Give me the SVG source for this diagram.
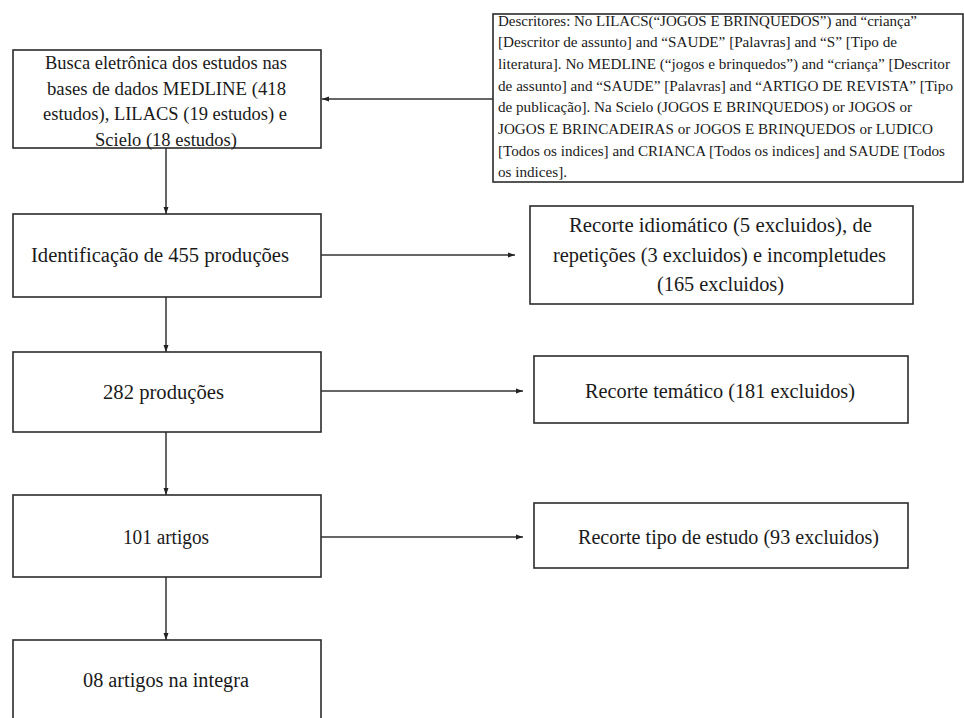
<svg xmlns="http://www.w3.org/2000/svg" width="964" height="718" viewBox="0 0 964 718">
<style>
.box{fill:#fff;stroke:#2b2b2b;stroke-width:1.6}
.t{font-family:"Liberation Serif","Times New Roman",serif;fill:#1a1a1a;font-size:20px}
.s{font-size:18.5px}
.d{font-size:15.5px}
.c{stroke:#333;stroke-width:1.5;fill:none}
</style>
<defs>
<marker id="ah" markerWidth="8" markerHeight="6" refX="7" refY="3" orient="auto" markerUnits="userSpaceOnUse">
<path d="M0,0.5 L7,3 L0,5.5 Z" fill="#222"/>
</marker>
</defs>
<rect width="964" height="718" fill="#fff"/>
<g id="connectors">
<path class="c" d="M493,99 L322,99" marker-end="url(#ah)"/>
<path class="c" d="M166,148 L166,214" marker-end="url(#ah)"/>
<path class="c" d="M321,255 L515,255" marker-end="url(#ah)"/>
<path class="c" d="M166,297 L166,352" marker-end="url(#ah)"/>
<path class="c" d="M321,391 L523,391" marker-end="url(#ah)"/>
<path class="c" d="M166,432 L166,495" marker-end="url(#ah)"/>
<path class="c" d="M321,537 L523,537" marker-end="url(#ah)"/>
<path class="c" d="M166,577 L166,640" marker-end="url(#ah)"/>
</g>
<g id="node-busca">
<rect class="box" x="13" y="50" width="308" height="98"/>
<g class="t s" text-anchor="middle">
<text x="166" y="69" textLength="242" lengthAdjust="spacingAndGlyphs">Busca eletrônica  dos estudos nas</text>
<text x="166.5" y="95" textLength="239" lengthAdjust="spacingAndGlyphs">bases de dados  MEDLINE (418</text>
<text x="165" y="120" textLength="244" lengthAdjust="spacingAndGlyphs">estudos), LILACS  (19 estudos) e</text>
<text x="166" y="146" textLength="142" lengthAdjust="spacingAndGlyphs">Scielo  (18 estudos)</text>
</g>
</g>
<g id="node-descritores">
<rect class="box" x="493" y="14" width="470" height="168"/>
<g class="t d">
<text x="498" y="25.5" textLength="419" lengthAdjust="spacingAndGlyphs">Descritores: No LILACS(“JOGOS E BRINQUEDOS”) and “criança”</text>
<text x="498" y="47.2" textLength="399" lengthAdjust="spacingAndGlyphs">[Descritor de assunto] and “SAUDE” [Palavras] and “S” [Tipo de</text>
<text x="498" y="68.9" textLength="452" lengthAdjust="spacingAndGlyphs">literatura]. No MEDLINE (“jogos e brinquedos”) and “criança” [Descritor</text>
<text x="498" y="90.6" textLength="455" lengthAdjust="spacingAndGlyphs">de assunto] and “SAUDE” [Palavras] and “ARTIGO DE REVISTA” [Tipo</text>
<text x="498" y="112.3" textLength="414" lengthAdjust="spacingAndGlyphs">de publicação]. Na Scielo (JOGOS E BRINQUEDOS) or JOGOS or</text>
<text x="498" y="134" textLength="435" lengthAdjust="spacingAndGlyphs">JOGOS E BRINCADEIRAS or JOGOS E BRINQUEDOS or LUDICO</text>
<text x="498" y="155.7" textLength="447" lengthAdjust="spacingAndGlyphs">[Todos os indices] and CRIANCA [Todos os indices] and SAUDE [Todos</text>
<text x="498" y="177.4" textLength="69" lengthAdjust="spacingAndGlyphs">os indices].</text>
</g>
</g>
<g id="node-identificacao">
<rect class="box" x="13" y="214" width="308" height="83"/>
<text class="t" x="160" y="262" text-anchor="middle" textLength="258" lengthAdjust="spacingAndGlyphs">Identificação  de 455 produções</text>
</g>
<g id="node-recorte-idiomatico">
<rect class="box" x="530" y="206" width="383" height="98"/>
<g class="t" text-anchor="middle">
<text x="720.5" y="232" textLength="303" lengthAdjust="spacingAndGlyphs">Recorte idiomático  (5 excluidos),  de</text>
<text x="719.5" y="262" textLength="333" lengthAdjust="spacingAndGlyphs">repetições (3 excluidos)  e incompletudes</text>
<text x="720.5" y="291" textLength="127" lengthAdjust="spacingAndGlyphs">(165 excluidos)</text>
</g>
</g>
<g id="node-282">
<rect class="box" x="13" y="352" width="308" height="80"/>
<text class="t" x="163.5" y="399" text-anchor="middle" textLength="121" lengthAdjust="spacingAndGlyphs">282 produções</text>
</g>
<g id="node-recorte-tematico">
<rect class="box" x="534" y="356" width="374" height="67"/>
<text class="t" x="720" y="398" text-anchor="middle" textLength="270" lengthAdjust="spacingAndGlyphs">Recorte temático (181 excluidos)</text>
</g>
<g id="node-101">
<rect class="box" x="13" y="495" width="308" height="82"/>
<text class="t" x="166" y="544" text-anchor="middle" textLength="86" lengthAdjust="spacingAndGlyphs">101 artigos</text>
</g>
<g id="node-recorte-tipo">
<rect class="box" x="534" y="503" width="374" height="65"/>
<text class="t" x="728.5" y="544" text-anchor="middle" textLength="301" lengthAdjust="spacingAndGlyphs">Recorte tipo de estudo (93 excluidos)</text>
</g>
<g id="node-08">
<rect class="box" x="13" y="640" width="308" height="90"/>
<text class="t" x="166" y="687" text-anchor="middle" textLength="166" lengthAdjust="spacingAndGlyphs">08 artigos na integra</text>
</g>
</svg>
